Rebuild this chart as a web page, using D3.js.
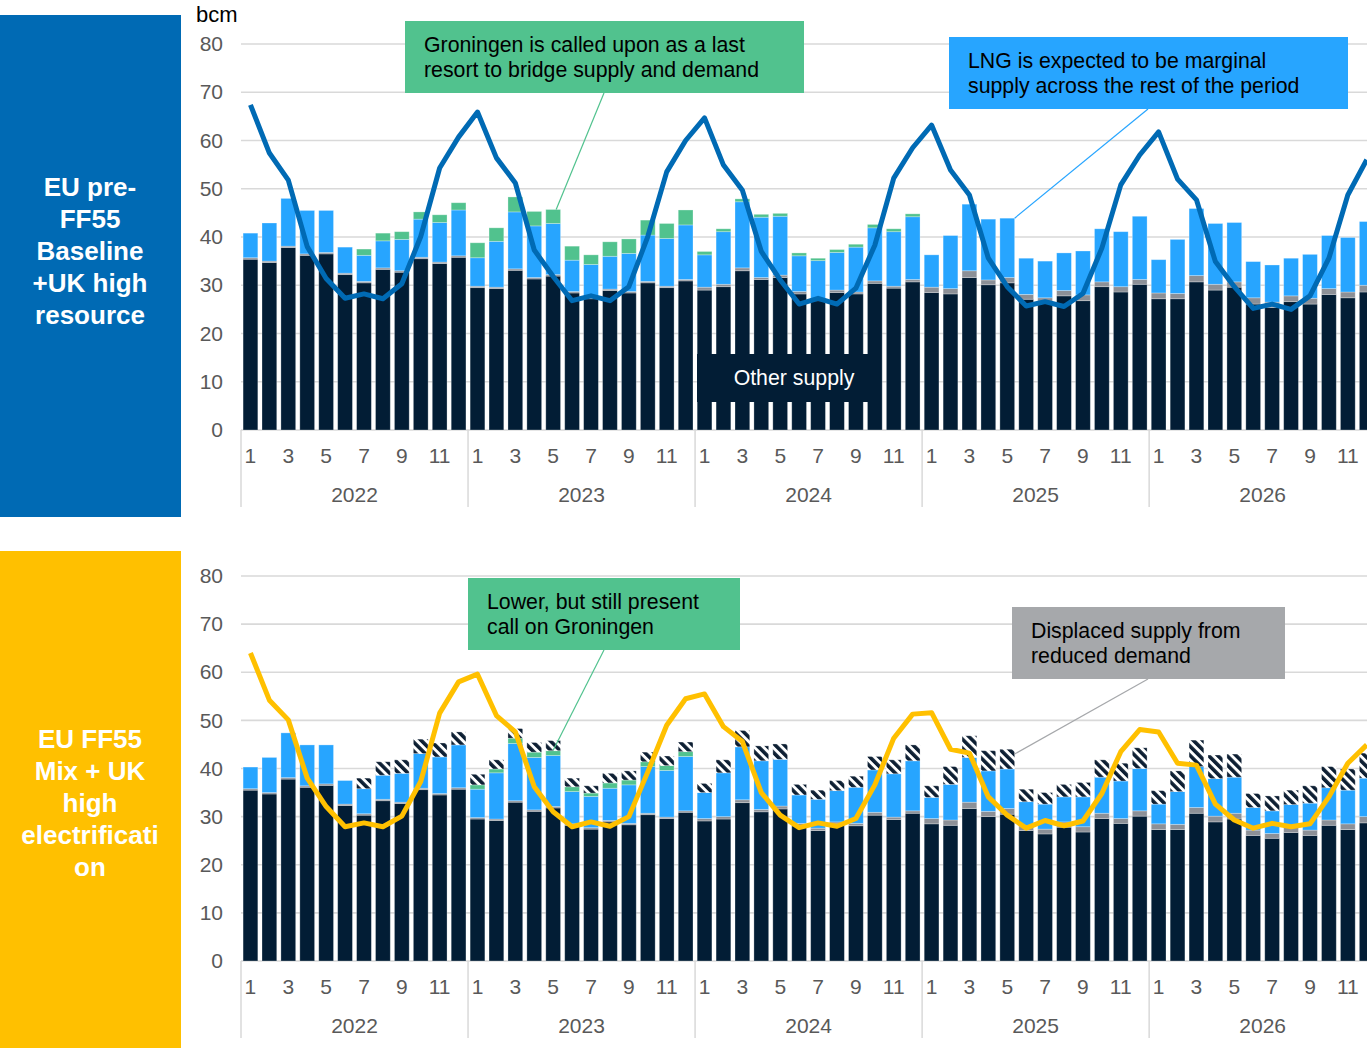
<!DOCTYPE html>
<html>
<head>
<meta charset="utf-8">
<script src="https://cdn.jsdelivr.net/npm/d3@7/dist/d3.min.js"></script>
<style>
  html, body { margin: 0; padding: 0; background: #fff; }
  svg { display: block; font-family: "Liberation Sans", Arial, sans-serif; }
</style>
</head>
<body>
<svg id="chart" width="1367" height="1048"></svg>
<script>
// ---- Data (bcm per month, Jan 2022 – Dec 2026) ----
const years = ["2022", "2023", "2024", "2025", "2026"];
const monthNumbers = [1, 2, 3, 4, 5, 6, 7, 8, 9, 10, 11, 12];
const yTicks = [0, 10, 20, 30, 40, 50, 60, 70, 80];

// Scenario 1: EU pre-FF55 Baseline + UK high resource
const baseOther = [35.4, 34.7, 37.8, 36.2, 36.5, 32.2, 30.5, 33.3, 32.7, 35.5, 34.5, 35.8,
                   29.5, 29.3, 33.1, 31.3, 31.9, 28.4, 27.2, 28.9, 28.4, 30.5, 29.5, 30.9,
                   29.0, 29.7, 33.0, 31.2, 31.6, 28.2, 26.8, 28.5, 28.2, 30.4, 29.4, 30.7,
                   28.5, 28.2, 31.6, 30.1, 30.5, 27.1, 26.4, 27.8, 26.8, 29.7, 28.6, 30.2,
                   27.2, 27.2, 30.7, 29.0, 29.6, 26.1, 25.4, 26.6, 26.1, 28.1, 27.4, 28.6];
const baseMinor = [0.3, 0.3, 0.3, 0.3, 0.3, 0.3, 0.3, 0.3, 0.3, 0.3, 0.3, 0.3,
                   0.3, 0.3, 0.3, 0.3, 0.3, 0.3, 0.3, 0.3, 0.3, 0.3, 0.3, 0.3,
                   0.6, 0.5, 0.6, 0.4, 0.5, 0.5, 0.4, 0.5, 0.4, 0.5, 0.4, 0.5,
                   1.1, 1.1, 1.4, 1.0, 1.1, 1.0, 1.0, 1.1, 1.2, 1.0, 1.1, 1.0,
                   1.2, 1.1, 1.3, 1.2, 1.1, 1.3, 1.1, 1.2, 1.2, 1.2, 1.2, 1.4];
const baseLNG = [5.1, 7.9, 9.9, 9.0, 8.7, 5.4, 5.4, 5.6, 6.5, 7.9, 8.2, 9.5,
                 5.9, 9.5, 11.8, 10.7, 10.6, 6.5, 6.8, 6.8, 7.9, 9.6, 9.9, 11.3,
                 6.7, 10.9, 13.7, 12.5, 12.2, 7.4, 7.9, 7.8, 9.3, 11.0, 11.3, 13.0,
                 6.7, 11.0, 13.8, 12.6, 12.3, 7.5, 7.6, 7.8, 9.1, 11.0, 11.4, 13.1,
                 6.9, 11.2, 13.9, 12.6, 12.3, 7.5, 7.7, 7.8, 9.1, 11.0, 11.3, 13.2];
const baseGroningen = [0, 0, 0, 0, 0, 0, 1.3, 1.6, 1.6, 1.5, 1.6, 1.5,
                       3.1, 2.8, 3.1, 3.0, 2.9, 2.9, 2.0, 3.0, 3.0, 3.1, 3.1, 3.1,
                       0.7, 0.6, 0.6, 0.6, 0.6, 0.6, 0.5, 0.6, 0.6, 0.7, 0.6, 0.6,
                       0, 0, 0, 0, 0, 0, 0, 0, 0, 0, 0, 0,
                       0, 0, 0, 0, 0, 0, 0, 0, 0, 0, 0, 0];
const baseDemand = [67.4, 57.4, 51.8, 38.0, 31.4, 27.3, 28.2, 27.2, 30.3, 40.1, 54.3, 60.7,
                    65.9, 56.4, 51.2, 37.3, 31.8, 26.8, 27.8, 26.8, 29.7, 40.1, 53.5, 60.0,
                    64.7, 54.9, 49.7, 37.0, 31.1, 26.1, 27.3, 26.1, 29.4, 38.3, 52.2, 58.5,
                    63.2, 53.9, 48.7, 35.6, 29.7, 25.7, 26.6, 25.6, 28.3, 37.7, 50.8, 57.0,
                    61.8, 52.0, 47.7, 34.9, 29.7, 25.2, 26.1, 25.0, 27.8, 35.6, 48.7, 56.0];

// Scenario 2: EU FF55 Mix + UK high electrification
const mixOther = [35.5, 34.7, 37.8, 36.1, 36.5, 32.3, 30.3, 33.3, 32.7, 35.6, 34.5, 35.7,
                  29.5, 29.2, 33.0, 31.1, 31.8, 28.2, 27.4, 28.9, 28.3, 30.4, 29.6, 30.9,
                  29.1, 29.5, 32.9, 31.0, 31.6, 28.1, 27.1, 28.5, 28.1, 30.3, 29.4, 30.7,
                  28.5, 28.2, 31.7, 30.0, 30.5, 27.1, 26.4, 27.8, 26.8, 29.6, 28.6, 30.1,
                  27.3, 27.3, 30.7, 28.9, 29.5, 26.1, 25.5, 26.7, 26.1, 28.2, 27.3, 28.7];
const mixMinor = [0.3, 0.3, 0.3, 0.3, 0.3, 0.3, 0.3, 0.3, 0.3, 0.3, 0.3, 0.3,
                  0.3, 0.3, 0.3, 0.3, 0.3, 0.3, 0.3, 0.3, 0.3, 0.3, 0.3, 0.3,
                  0.5, 0.5, 0.6, 0.5, 0.6, 0.5, 0.5, 0.4, 0.5, 0.6, 0.5, 0.5,
                  1.1, 1.1, 1.3, 1.1, 1.2, 1.0, 1.0, 1.1, 1.1, 1.1, 1.0, 1.1,
                  1.2, 1.1, 1.2, 1.2, 1.2, 1.1, 1.0, 1.1, 1.1, 1.1, 1.2, 1.3];
const mixLNG = [4.5, 7.3, 9.3, 8.5, 8.1, 4.9, 5.2, 5.0, 6.0, 7.2, 7.6, 8.9,
                5.9, 9.6, 11.9, 10.9, 10.6, 6.7, 6.5, 6.7, 8.0, 9.7, 9.7, 11.3,
                5.4, 9.1, 11.0, 10.1, 9.7, 5.9, 6.0, 6.5, 7.5, 8.8, 9.0, 10.4,
                4.4, 7.4, 9.3, 8.4, 8.2, 5.0, 5.2, 5.2, 6.2, 7.5, 7.8, 8.8,
                4.1, 6.8, 8.5, 7.8, 7.5, 4.7, 4.7, 4.7, 5.6, 6.7, 7.0, 8.0];
const mixGroningen = [0, 0, 0, 0, 0, 0, 0, 0, 0, 0, 0, 0,
                      0.9, 0.8, 1.1, 1.1, 1.0, 1.0, 0.7, 1.1, 1.0, 1.0, 1.0, 1.0,
                      0, 0, 0, 0, 0, 0, 0, 0, 0, 0, 0, 0,
                      0, 0, 0, 0, 0, 0, 0, 0, 0, 0, 0, 0,
                      0, 0, 0, 0, 0, 0, 0, 0, 0, 0, 0, 0];
const mixDisplaced = [0, 0, 0, 0, 0, 0, 2.2, 2.8, 2.8, 3.0, 2.9, 2.7,
                      2.2, 1.9, 2.0, 2.0, 2.1, 1.8, 1.5, 2.0, 1.9, 2.0, 2.0, 2.0,
                      1.9, 2.7, 3.4, 3.1, 3.2, 2.2, 1.9, 2.1, 2.3, 2.8, 2.9, 3.3,
                      2.4, 3.7, 4.5, 4.2, 4.1, 2.6, 2.4, 2.6, 3.0, 3.6, 3.7, 4.3,
                      2.8, 4.3, 5.5, 4.9, 4.8, 2.9, 3.1, 3.0, 3.6, 4.4, 4.4, 5.2];
const mixDemand = [64.0, 54.2, 50.1, 38.0, 32.1, 27.9, 28.7, 27.9, 30.1, 37.3, 51.5, 58.0,
                   59.6, 51.0, 47.6, 36.2, 31.0, 27.9, 28.9, 28.0, 30.0, 39.3, 49.0, 54.5,
                   55.5, 48.7, 45.6, 35.0, 30.3, 27.7, 28.7, 28.0, 29.6, 36.6, 46.3, 51.3,
                   51.6, 44.0, 43.2, 34.1, 30.3, 27.6, 29.2, 28.1, 29.1, 34.8, 43.5, 48.1,
                   47.6, 41.1, 40.7, 32.6, 29.3, 27.6, 28.6, 27.9, 28.5, 34.1, 41.1, 44.9];

// ---- Styling ----
const COLORS = {
  other: "#021d35",
  minor: "#8c9097",
  lng: "#27a5ff",
  groningen: "#51c28e",
  grid: "#d9d9d9",
  tick: "#595959"
};
const FS = 21;

const svg = d3.select("#chart");
const W = 1367;

// hatch pattern for displaced supply
const defs = svg.append("defs");
const pat = defs.append("pattern")
  .attr("id", "hatch")
  .attr("patternUnits", "userSpaceOnUse")
  .attr("width", 6.5).attr("height", 6.5)
  .attr("patternTransform", "rotate(-45)");
pat.append("rect").attr("width", 6.5).attr("height", 6.5).attr("fill", "#ffffff");
pat.append("rect").attr("width", 3.6).attr("height", 6.5).attr("fill", "#0d1f33");

// month index list
const idx = d3.range(years.length * monthNumbers.length);
const x = d3.scaleBand()
  .domain(idx)
  .range([241, 241 + 60 * 18.92])
  .paddingInner(0.22)
  .paddingOuter(0.11);
const cx = i => x(i) + x.bandwidth() / 2;

function drawPanel(cfg) {
  const g = svg.append("g");
  const y = d3.scaleLinear().domain([0, 80]).range([cfg.y0, cfg.y80]);

  // side box
  g.append("rect").attr("x", 0).attr("y", cfg.boxY).attr("width", 181).attr("height", cfg.boxH)
    .attr("fill", cfg.boxColor);
  const tl = g.append("text").attr("text-anchor", "middle").attr("fill", "#fff")
    .attr("font-weight", "bold").attr("font-size", 26);
  cfg.boxLines.forEach((ln, k) => {
    tl.append("tspan").attr("x", 90).attr("y", cfg.boxTextY + k * 32).text(ln);
  });

  // gridlines
  g.append("g").selectAll("line").data(yTicks).join("line")
    .attr("x1", 241).attr("x2", W)
    .attr("y1", d => y(d)).attr("y2", d => y(d))
    .attr("stroke", COLORS.grid).attr("stroke-width", 1.6);

  // y axis labels
  const yAxis = d3.axisLeft(y).tickValues(yTicks).tickSize(0).tickPadding(0);
  const ya = g.append("g").attr("transform", "translate(223,0)").call(yAxis);
  ya.select(".domain").remove();
  ya.selectAll("text").attr("font-size", FS).attr("fill", COLORS.tick)
    .attr("font-family", "Liberation Sans, Arial, sans-serif");

  if (cfg.unit) {
    g.append("text").attr("x", 196).attr("y", 22).attr("font-size", 22).attr("fill", "#000").text(cfg.unit);
  }

  // stacked bars
  const keys = cfg.series.map(s => s.key);
  const rows = idx.map(i => {
    const r = { i };
    cfg.series.forEach(s => { r[s.key] = s.values[i]; });
    return r;
  });
  const stacked = d3.stack().keys(keys)(rows);
  const fills = Object.fromEntries(cfg.series.map(s => [s.key, s.fill]));

  g.append("g").selectAll("g").data(stacked).join("g")
    .attr("fill", d => fills[d.key])
    .selectAll("rect").data(d => d.filter(p => p[1] - p[0] > 0)).join("rect")
    .attr("x", p => x(p.data.i))
    .attr("width", x.bandwidth())
    .attr("y", p => y(p[1]))
    .attr("height", p => y(p[0]) - y(p[1]))
    .attr("stroke", "rgba(255,255,255,0.35)")
    .attr("stroke-width", 0.8);

  // demand line
  const line = d3.line().x((d, i) => cx(i)).y(d => y(d));
  g.append("path").datum(cfg.demand)
    .attr("d", line).attr("fill", "none")
    .attr("stroke", cfg.lineColor).attr("stroke-width", 5)
    .attr("stroke-linejoin", "round").attr("stroke-linecap", "butt");

  // category axis: months + years
  const step = x.step();
  const x0 = 241;
  const axisG = g.append("g");
  axisG.selectAll("line.sep").data(d3.range(years.length + 1)).join("line")
    .attr("x1", k => x0 + k * 12 * step).attr("x2", k => x0 + k * 12 * step)
    .attr("y1", cfg.y0).attr("y2", cfg.y0 + 77)
    .attr("stroke", COLORS.grid).attr("stroke-width", 1.5);
  axisG.selectAll("text.m").data(idx.filter(i => monthNumbers[i % 12] % 2 === 1)).join("text")
    .attr("x", i => cx(i)).attr("y", cfg.y0 + 33)
    .attr("text-anchor", "middle").attr("font-size", FS).attr("fill", COLORS.tick)
    .text(i => monthNumbers[i % 12]);
  axisG.selectAll("text.y").data(years).join("text")
    .attr("x", (d, k) => x0 + (k + 0.5) * 12 * step).attr("y", cfg.y0 + 72)
    .attr("text-anchor", "middle").attr("font-size", FS).attr("fill", COLORS.tick)
    .text(d => d);

  return { g, y };
}

function callout(g, box, lines, fill, textColor, leaderFrom, leaderTo, leaderColor) {
  if (leaderFrom) {
    g.append("line")
      .attr("x1", leaderFrom[0]).attr("y1", leaderFrom[1])
      .attr("x2", leaderTo[0]).attr("y2", leaderTo[1])
      .attr("stroke", leaderColor).attr("stroke-width", 1.2);
  }
  g.append("rect").attr("x", box[0]).attr("y", box[1]).attr("width", box[2]).attr("height", box[3])
    .attr("fill", fill);
  const t = g.append("text").attr("font-size", 21.3).attr("fill", textColor);
  lines.forEach((ln, k) => {
    t.append("tspan").attr("x", box[0] + 19).attr("y", box[1] + 31 + k * 25).text(ln);
  });
}

// ---- Upper panel ----
const panelA = drawPanel({
  y0: 430, y80: 44,
  boxY: 15, boxH: 502, boxColor: "#006ab4",
  boxLines: ["EU pre-", "FF55", "Baseline", "+UK high", "resource"], boxTextY: 196,
  unit: "bcm",
  lineColor: "#006ab4",
  demand: baseDemand,
  series: [
    { key: "other", values: baseOther, fill: COLORS.other },
    { key: "minor", values: baseMinor, fill: COLORS.minor },
    { key: "lng", values: baseLNG, fill: COLORS.lng },
    { key: "groningen", values: baseGroningen, fill: COLORS.groningen }
  ]
});

const baseTotal = i => baseOther[i] + baseMinor[i] + baseLNG[i] + baseGroningen[i];
callout(panelA.g, [405, 21, 399, 72],
  ["Groningen is called upon as a last", "resort to bridge supply and demand"],
  "#51c28e", "#000", [604, 93], [cx(16) + 3, panelA.y(baseTotal(16))], "#51c28e");
callout(panelA.g, [949, 37, 399, 72],
  ["LNG is expected to be marginal", "supply across the rest of the period"],
  "#27a5ff", "#000", [1148, 109], [x(40) + x.bandwidth(), panelA.y(baseTotal(40))], "#27a5ff");

// "Other supply" tag
panelA.g.append("rect").attr("x", 697).attr("y", 354).attr("width", 183).attr("height", 48).attr("fill", "#021d35");
panelA.g.append("text").attr("x", 794).attr("y", 385).attr("text-anchor", "middle")
  .attr("font-size", 21.3).attr("fill", "#fff").text("Other supply");

// ---- Lower panel ----
const panelB = drawPanel({
  y0: 961, y80: 576,
  boxY: 551, boxH: 497, boxColor: "#ffc000",
  boxLines: ["EU FF55", "Mix + UK", "high", "electrificati", "on"], boxTextY: 748,
  unit: null,
  lineColor: "#ffc000",
  demand: mixDemand,
  series: [
    { key: "other", values: mixOther, fill: COLORS.other },
    { key: "minor", values: mixMinor, fill: COLORS.minor },
    { key: "lng", values: mixLNG, fill: COLORS.lng },
    { key: "groningen", values: mixGroningen, fill: COLORS.groningen },
    { key: "displaced", values: mixDisplaced, fill: "url(#hatch)" }
  ]
});

const mixTotal = i => mixOther[i] + mixMinor[i] + mixLNG[i] + mixGroningen[i] + mixDisplaced[i];
callout(panelB.g, [468, 578, 272, 72],
  ["Lower, but still present", "call on Groningen"],
  "#51c28e", "#000", [604, 650], [cx(16), panelB.y(mixTotal(16) - 2)], "#51c28e");
callout(panelB.g, [1012, 607, 273, 72],
  ["Displaced supply from", "reduced demand"],
  "#a6a8ab", "#000", [1148, 679], [x(40) + x.bandwidth(), panelB.y(mixTotal(40) - 1)], "#a6a8ab");
</script>
</body>
</html>
